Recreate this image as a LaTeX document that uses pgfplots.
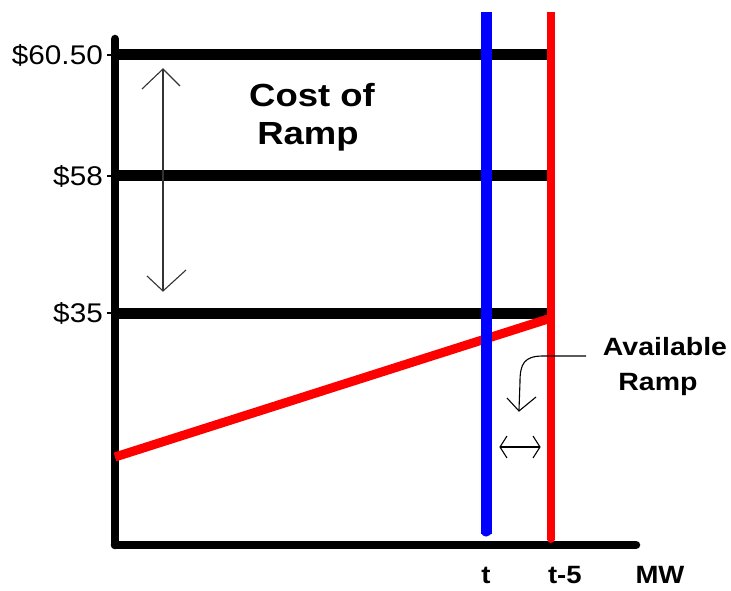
\documentclass[border=0pt]{standalone}
\usepackage{fontspec}
\usepackage{pgfplots}
\pgfplotsset{compat=1.18}
\setmainfont{Liberation Sans}
\newfontfamily\lblfont[FakeStretch=1.1]{Liberation Sans}
\newfontfamily\titlefont[FakeStretch=1.14]{Liberation Sans}
\newcommand{\ylbl}{\lblfont\fontsize{27}{32}\selectfont}
\newcommand{\xlbl}{\lblfont\bfseries\fontsize{25}{30}\selectfont}
\newcommand{\costfont}{\titlefont\bfseries\fontsize{32}{38}\selectfont}
\newcommand{\availfont}{\titlefont\bfseries\fontsize{25}{30}\selectfont}
\begin{document}
\begin{tikzpicture}
\begin{axis}[
  scale only axis,
  width=521pt, height=506pt,
  xmin=115, xmax=636, ymin=45, ymax=551,
  axis lines*=left,
  axis line style={black, line width=8.5pt, line cap=round},
  clip=false,
  /pgf/number format/assume math mode=true,
  xtick={486,551},
  xticklabels={t,{\makebox[0pt][l]{\hspace{-3pt}t-5}}},
  xtick style={draw=none},
  xticklabel style={font=\xlbl, anchor=base, yshift=-30pt},
  ytick={535,414,277},
  yticklabels={\$60.50,\$58,\$35},
  ytick style={black, line width=1.2pt},
  tick align=outside,
  major tick length=8pt,
  yticklabel style={font=\ylbl, inner sep=0pt, anchor=east, xshift=-4pt},
]
% invisible frame for the picture size
\path (axis cs:0,0) rectangle (axis cs:731,590);
% price levels
\addplot[black, line width=11pt, line cap=butt] coordinates {(115,535) (548,535)};
\addplot[black, line width=11pt, line cap=butt] coordinates {(115,414) (548,414)};
\addplot[black, line width=11pt, line cap=butt] coordinates {(115,277) (548,277)};
% supply (red slope)
\addplot[red, line width=9pt, line cap=butt] coordinates {(115,133) (548,271)};
% t (blue)
\addplot[blue, line width=11pt, line cap=butt] coordinates {(486,578) (486,56)};
\addplot[blue, line width=11pt, line cap=round] coordinates {(486,60) (486,59)};
% t-5 (red)
\addplot[red, line width=8pt, line cap=butt] coordinates {(551,578) (551,50)};
\addplot[red, line width=8pt, line cap=round] coordinates {(551,52) (551,51)};
% annotations
\draw[black!80, line width=1.1pt] (axis cs:163,521) -- (axis cs:163,299);
\draw[black!80, line width=1.1pt] (axis cs:142,501) -- (axis cs:163,521) -- (axis cs:180,504);
\draw[black!80, line width=1.1pt] (axis cs:147,314) -- (axis cs:163,299) -- (axis cs:186,320);
\node[font=\costfont, anchor=base] at (axis cs:312,483) {Cost of};
\node[font=\costfont, anchor=base] at (axis cs:308,445) {Ramp};
\node[font=\availfont, anchor=base] at (axis cs:665,235) {Available};
\node[font=\availfont, anchor=base] at (axis cs:658,200) {Ramp};
\draw[black, line width=1.1pt] (axis cs:586,234) -- (axis cs:543,234)
   .. controls (axis cs:524,234) and (axis cs:520,226) .. (axis cs:520,208) -- (axis cs:519,180);
\draw[black, line width=1.1pt] (axis cs:507,192) -- (axis cs:519,179) -- (axis cs:536,193);
\draw[black, line width=1.1pt] (axis cs:500,143) -- (axis cs:540,143);
\draw[black, line width=1.1pt] (axis cs:507,154) -- (axis cs:500,143) -- (axis cs:507,132);
\draw[black, line width=1.1pt] (axis cs:533,154) -- (axis cs:540,143) -- (axis cs:533,132);
\node[font=\xlbl, anchor=base] at (axis cs:660,7) {MW};
\end{axis}
\end{tikzpicture}
\end{document}
